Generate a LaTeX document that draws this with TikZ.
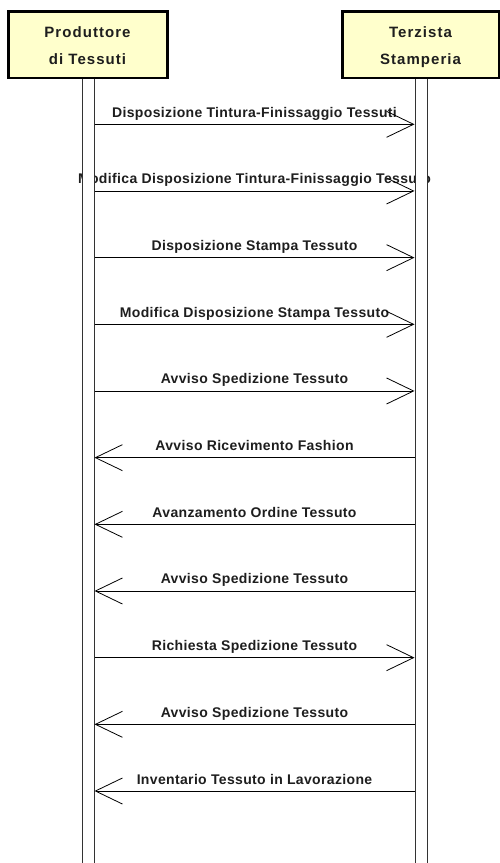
\documentclass[tikz,border=0pt]{standalone}
\usepackage{fontspec}
\setmainfont{Liberation Sans}
\newfontfamily\lblfont{Liberation Sans}[LetterSpace=2.5]
\newfontfamily\hdrfont{Liberation Sans}[LetterSpace=7]
\usetikzlibrary{arrows.meta}
\definecolor{hdrfill}{RGB}{255,255,204}
\definecolor{txtcol}{RGB}{30,30,30}
\tikzset{
  hdrbox/.style={draw=black, line width=2.6pt, fill=hdrfill, inner sep=0pt},
  hdrtxt/.style={anchor=base, align=center, inner sep=0pt, text=txtcol,
    font=\hdrfont\bfseries\fontsize{15}{26.6}\selectfont},
  lbl/.style={anchor=base, inner sep=0pt, text=txtcol,
    font=\lblfont\bfseries\fontsize{14}{16}\selectfont},
  lifebar/.style={draw=black!80, line width=0.9pt, fill=white, inner sep=0pt,
    minimum width=12.5pt, minimum height=800pt, anchor=north},
  msg/.style={draw=black, line width=0.8pt,
    -{Straight Barb[length=27pt,width=26pt,line width=0.8pt]}}
}
\begin{document}
\begin{tikzpicture}[x=1pt,y=-1pt]
\useasboundingbox (0,0) rectangle (499,863);
\fill[white] (0,0) rectangle (499,863);
% message labels (under the lifelines)
\foreach \t/\d [count=\k from 0] in {
  Disposizione Tintura-Finissaggio Tessuti/1,
  Modifica Disposizione Tintura-Finissaggio Tessuto/1,
  Disposizione Stampa Tessuto/1,
  Modifica Disposizione Stampa Tessuto/1,
  Avviso Spedizione Tessuto/1,
  Avviso Ricevimento Fashion/0,
  Avanzamento Ordine Tessuto/0,
  Avviso Spedizione Tessuto/0,
  Richiesta Spedizione Tessuto/1,
  Avviso Spedizione Tessuto/0,
  Inventario Tessuto in Lavorazione/0}{
  \pgfmathsetmacro\yy{124.3+66.67*\k}
  \node[lbl] (m\k) at (254.5,{\yy-7}) {\t};
  \coordinate (l\k) at (94.5,\yy);
  \coordinate (r\k) at (414.5,\yy);
}
% lifelines
\node[lifebar] (lbar) at (88.25,77) {};
\node[lifebar] (rbar) at (421.25,77) {};
% headers
\node[hdrbox, minimum width=158.7pt, minimum height=66.5pt, anchor=north west] (pbox) at (7.3,10.3) {};
\node[hdrbox, minimum width=156.4pt, minimum height=66.5pt, anchor=north west] (tbox) at (341.3,10.3) {};
\node[hdrtxt] (ptxt) at (87.5,64.3) {Produttore\\di Tessuti};
\node[hdrtxt] (ttxt) at (420.5,64.3) {Terzista\\Stamperia};
% messages
\foreach \d [count=\k from 0] in {1,1,1,1,1,0,0,0,1,0,0}{
  \ifnum\d=1
    \draw[msg] (l\k) -- (r\k);
  \else
    \draw[msg] (r\k) -- (l\k);
  \fi
}
\end{tikzpicture}
\end{document}
